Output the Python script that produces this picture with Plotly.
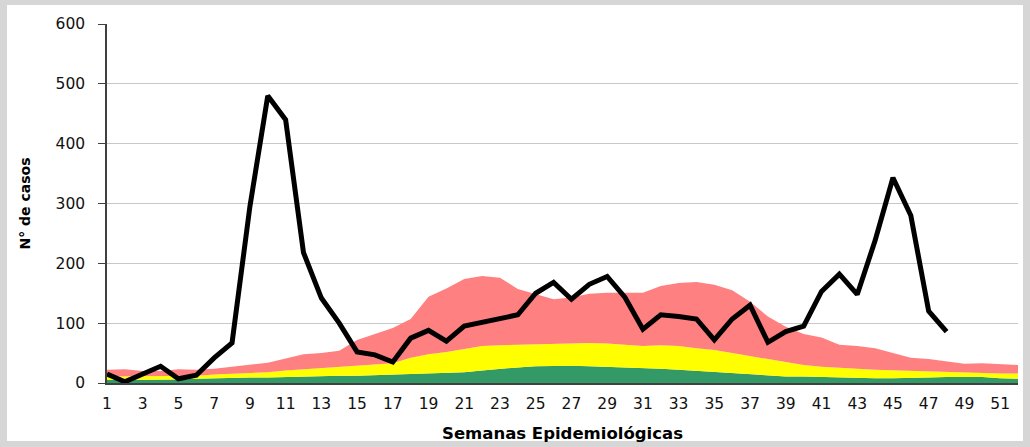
import plotly.graph_objects as go

weeks = list(range(1, 53))

# Upper limits of each zone of the endemic channel (cumulative values)
zona_exito = [5, 5, 5, 6, 6, 7, 8, 8, 9, 9, 10, 10, 11, 12, 12, 13, 13, 14, 15, 16,
              18, 21, 24, 26, 28, 29, 29, 28, 27, 27, 26, 24, 22, 20, 18, 16, 14, 13, 11, 11,
              10, 9, 8, 8, 8, 8, 9, 10, 10, 10, 8, 7]
zona_seguridad = [11, 11, 11, 12, 12, 12, 14, 15, 16, 18, 21, 23, 25, 26, 28, 30, 33, 42, 48, 52,
                  57, 62, 63, 64, 65, 65, 66, 67, 66, 64, 62, 63, 62, 58, 55, 50, 45, 40, 34, 30,
                  27, 26, 24, 22, 21, 20, 19, 19, 18, 17, 16, 16]
zona_alarma = [22, 23, 20, 20, 23, 22, 24, 27, 30, 34, 41, 48, 50, 54, 72, 82, 92, 107, 144, 158,
               174, 179, 176, 157, 148, 140, 143, 149, 151, 151, 151, 162, 167, 169, 164, 155, 136, 111, 94, 82,
               76, 64, 62, 58, 50, 42, 40, 36, 32, 33, 31, 30]

case_weeks = list(range(1, 49))
casos = [15, 2, 15, 28, 7, 13, 42, 67, 295, 480, 440, 218, 142, 100, 52, 47, 35, 75, 88, 70,
         95, 102, 108, 114, 150, 168, 140, 165, 178, 143, 90, 114, 111, 107, 72, 107, 130, 68, 86, 95,
         153, 182, 148, 238, 343, 280, 120, 86]

x_ticks = list(range(1, 52, 2))
y_ticks = [0, 100, 200, 300, 400, 500, 600]

fig = go.Figure()
fig.add_trace(go.Scatter(x=weeks, y=zona_exito, mode="lines", line=dict(width=0),
                         fill="tozeroy", fillcolor="#339966", showlegend=False, hoverinfo="skip"))
fig.add_trace(go.Scatter(x=weeks, y=zona_seguridad, mode="lines", line=dict(width=0),
                         fill="tonexty", fillcolor="#FFFF00", showlegend=False, hoverinfo="skip"))
fig.add_trace(go.Scatter(x=weeks, y=zona_alarma, mode="lines", line=dict(width=0),
                         fill="tonexty", fillcolor="#FF8080", showlegend=False, hoverinfo="skip"))
fig.add_trace(go.Scatter(x=case_weeks, y=casos, mode="lines",
                         line=dict(color="black", width=5), showlegend=False))

W, H = 1030, 447
L, R, T, B = 107, 12, 24, 64
pw, ph = W - L - R, H - T - B

def px2paper_x(px):
    return (px - L) / pw

def px2paper_y(py):
    return (H - B - py) / ph

fig.add_shape(type="rect", xref="paper", yref="paper",
              x0=px2paper_x(7), x1=px2paper_x(1023), y0=px2paper_y(441), y1=px2paper_y(5),
              fillcolor="white", line=dict(width=0), layer="below")

fig.update_layout(
    width=W, height=H,
    margin=dict(l=L, r=R, t=T, b=B),
    paper_bgcolor="#d6d6d6",
    plot_bgcolor="white",
    font=dict(family="DejaVu Sans, Arial, sans-serif", color="black"),
    xaxis=dict(
        range=[1, 52], tickvals=x_ticks, ticktext=[str(v) for v in x_ticks],
        tickfont=dict(size=15.5, color="#111111"), showgrid=False, zeroline=False,
        showline=True, linecolor="#404040", linewidth=1.5, automargin=False,
        ticks="outside", ticklen=6, tickcolor="rgba(0,0,0,0)",
        title=dict(text="<b>Semanas Epidemiológicas</b>", font=dict(size=16.5), standoff=15),
    ),
    yaxis=dict(
        range=[0, 600], tickvals=y_ticks, tickfont=dict(size=15.5, color="#111111"),
        showgrid=True, gridcolor="#c8c8c8", gridwidth=1, zeroline=False,
        showline=True, linecolor="#404040", linewidth=1.5, automargin=False,
        ticks="outside", ticklen=7, tickcolor="#404040", ticklabelstandoff=10,
        title=dict(text="<b>N° de casos</b>", font=dict(size=14), standoff=22),
    ),
)

fig.write_html("out.html", config={"displayModeBar": False},
               post_script="document.body.style.margin='0';")
